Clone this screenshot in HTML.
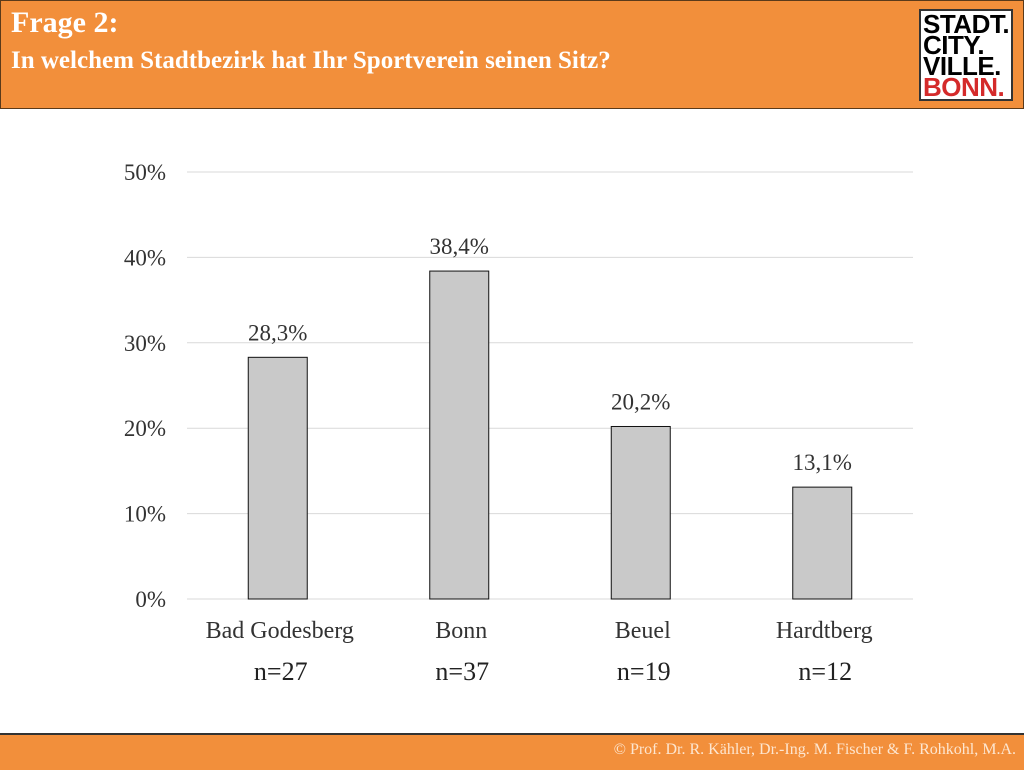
<!DOCTYPE html>
<html><head><meta charset="utf-8"><style>
body{margin:0;width:1024px;height:768px;background:#fff;position:relative;overflow:hidden;font-family:"Liberation Serif",serif;}
#hdr{position:absolute;left:0;top:0;width:1022px;height:107px;background:#f28f3b;border:1px solid #5a3a1a;}
#t1{position:absolute;left:10px;top:5px;font-size:30px;font-weight:bold;color:#fff;}
#t2{position:absolute;left:10px;top:46px;font-size:25px;font-weight:bold;color:#fff;}
#logo{position:absolute;left:918px;top:8px;width:94px;height:92px;background:#fff;border:2px solid #333;font-family:"Liberation Sans",sans-serif;font-weight:bold;font-size:26px;line-height:21px;padding:3px 0 0 2px;box-sizing:border-box;letter-spacing:-0.5px;}
#ftr{position:absolute;left:0;top:733px;width:1024px;height:35px;background:#f28f3b;border-top:2px solid #333;}
#ftxt{position:absolute;right:8px;top:6px;font-size:16px;color:#fde6d0;}
</style></head><body>
<div id="hdr">
<div id="t1">Frage 2:</div>
<div id="t2">In welchem Stadtbezirk hat Ihr Sportverein seinen Sitz?</div>
<div id="logo">STADT.<br>CITY.<br>VILLE.<br><span style="color:#d42a2a">BONN.</span></div>
</div>
<svg id="chart" width="1024" height="768" style="position:absolute;left:0;top:0"></svg>
<div id="ftr"><div id="ftxt">© Prof. Dr. R. Kähler, Dr.-Ing. M. Fischer &amp; F. Rohkohl, M.A.</div></div>
<script>
const categories=["Bad Godesberg","Bonn","Beuel","Hardtberg"];
const values=[28.3,38.4,20.2,13.1];
const nLabels=["n=27","n=37","n=19","n=12"];
const ticks=[0,10,20,30,40,50];
const NS="http://www.w3.org/2000/svg";
const svg=document.getElementById('chart');
const x0=187,x1=913,y0=599,yTop=172,maxV=50;
const band=(x1-x0)/categories.length;
const y=v=>y0-(v/maxV)*(y0-yTop);
const xc=i=>x0+band*(i+0.5);
function mk(t,a,txt){const e=document.createElementNS(NS,t);for(const k in a)e.setAttribute(k,a[k]);if(txt!==undefined)e.textContent=txt;svg.appendChild(e);return e;}
ticks.forEach(t=>{
 const g=mk('line',{x1:x0,x2:x1,y1:y(t),y2:y(t),stroke:'#d9d9d9','stroke-width':1});
 
 
 const l=mk('text',{x:166,y:y(t)+8,'text-anchor':'end','font-size':23,'font-family':'Liberation Serif, serif',fill:'#333'},t+'%');
 
 
});
values.forEach((v,i)=>{
 const b=mk('rect',{x:xc(i)-29.5,y:y(v),width:59,height:y0-y(v),fill:'#c9c9c9',stroke:'#111','stroke-width':1});
 
 
 const t=mk('text',{x:xc(i),y:y(v)-17,'text-anchor':'middle','font-size':23,'font-family':'Liberation Serif, serif',fill:'#333'},v.toFixed(1).replace('.',',')+'%');
 
 
 const c=mk('text',{x:xc(i)+2,y:638,'text-anchor':'middle','font-size':24,'font-family':'Liberation Serif, serif',fill:'#333'},categories[i]);
 
 
 const n=mk('text',{x:xc(i)+3,y:680,'text-anchor':'middle','font-size':26,'font-family':'Liberation Serif, serif',fill:'#222'},nLabels[i]);
 
 
});
</script>
</body></html>
